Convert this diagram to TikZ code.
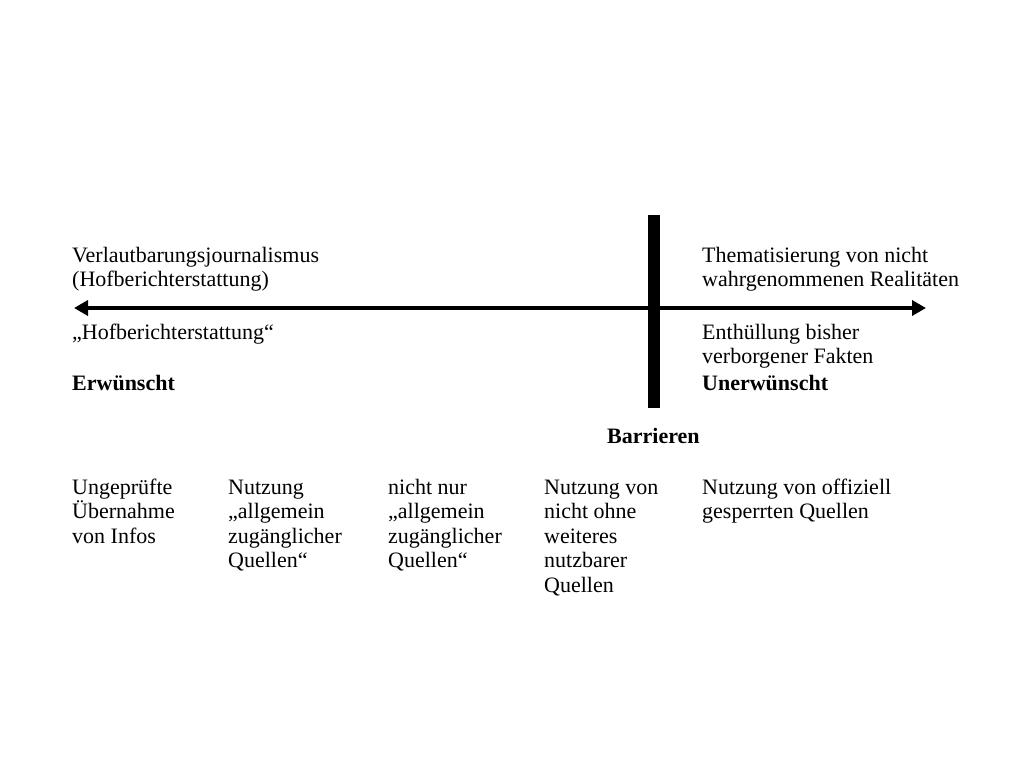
\documentclass[tikz,border=0pt]{standalone}
\usepackage{fontspec}
\setmainfont{Liberation Serif}
\usetikzlibrary{arrows.meta,positioning}

\begin{document}
\begin{tikzpicture}[x=1pt,y=-1pt,font=\fontsize{22}{24.5}\selectfont,every node/.style={inner sep=0pt,anchor=base west},every text node part/.style={align=left},axis/.style={line width=4pt,{Triangle[length=14pt,width=15pt]}-{Triangle[length=14pt,width=15pt]}},barrier/.style={line width=12pt}]
	\useasboundingbox[fill=white] (0,0) rectangle (1024,768);

	\coordinate (axisLeft) at (74,308);
	\coordinate (axisRight) at (926,308);
	\coordinate (barTop) at (654,215);
	\coordinate (barBottom) at (654,408);
	\draw[axis] (axisLeft) -- (axisRight);
	\draw[barrier] (barTop) -- (barBottom);

	% base of a multi-line node is its last line
	\node (officialTop) at (72,286.5) {Verlautbarungsjournalismus\\(Hofberichterstattung)};
	\node (officialBottom) at (72,339) {„Hofberichterstattung“};
	\node (wanted) at (72,390) {\bfseries Erwünscht};
	\node (hiddenTop) at (702,286.5) {Thematisierung von nicht\\wahrgenommenen Realitäten};
	\node (hiddenBottom) at (702,363.5) {Enthüllung bisher\\verborgener Fakten};
	\node (unwanted) at (702,390) {\bfseries Unerwünscht};
	\node (barriers) at (607,443) {\bfseries Barrieren};

	\node (srcA) at (72,543) {Ungeprüfte\\Übernahme\\von Infos};
	\node (srcB) at (228,567.5) {Nutzung\\„allgemein\\zugänglicher\\Quellen“};
	\node (srcC) at (388,567.5) {nicht nur\\„allgemein\\zugänglicher\\Quellen“};
	\node (srcD) at (544,592) {Nutzung von\\nicht ohne\\weiteres\\nutzbarer\\Quellen};
	\node (srcE) at (702,518.5) {Nutzung von offiziell\\gesperrten Quellen};
\end{tikzpicture}
\end{document}
